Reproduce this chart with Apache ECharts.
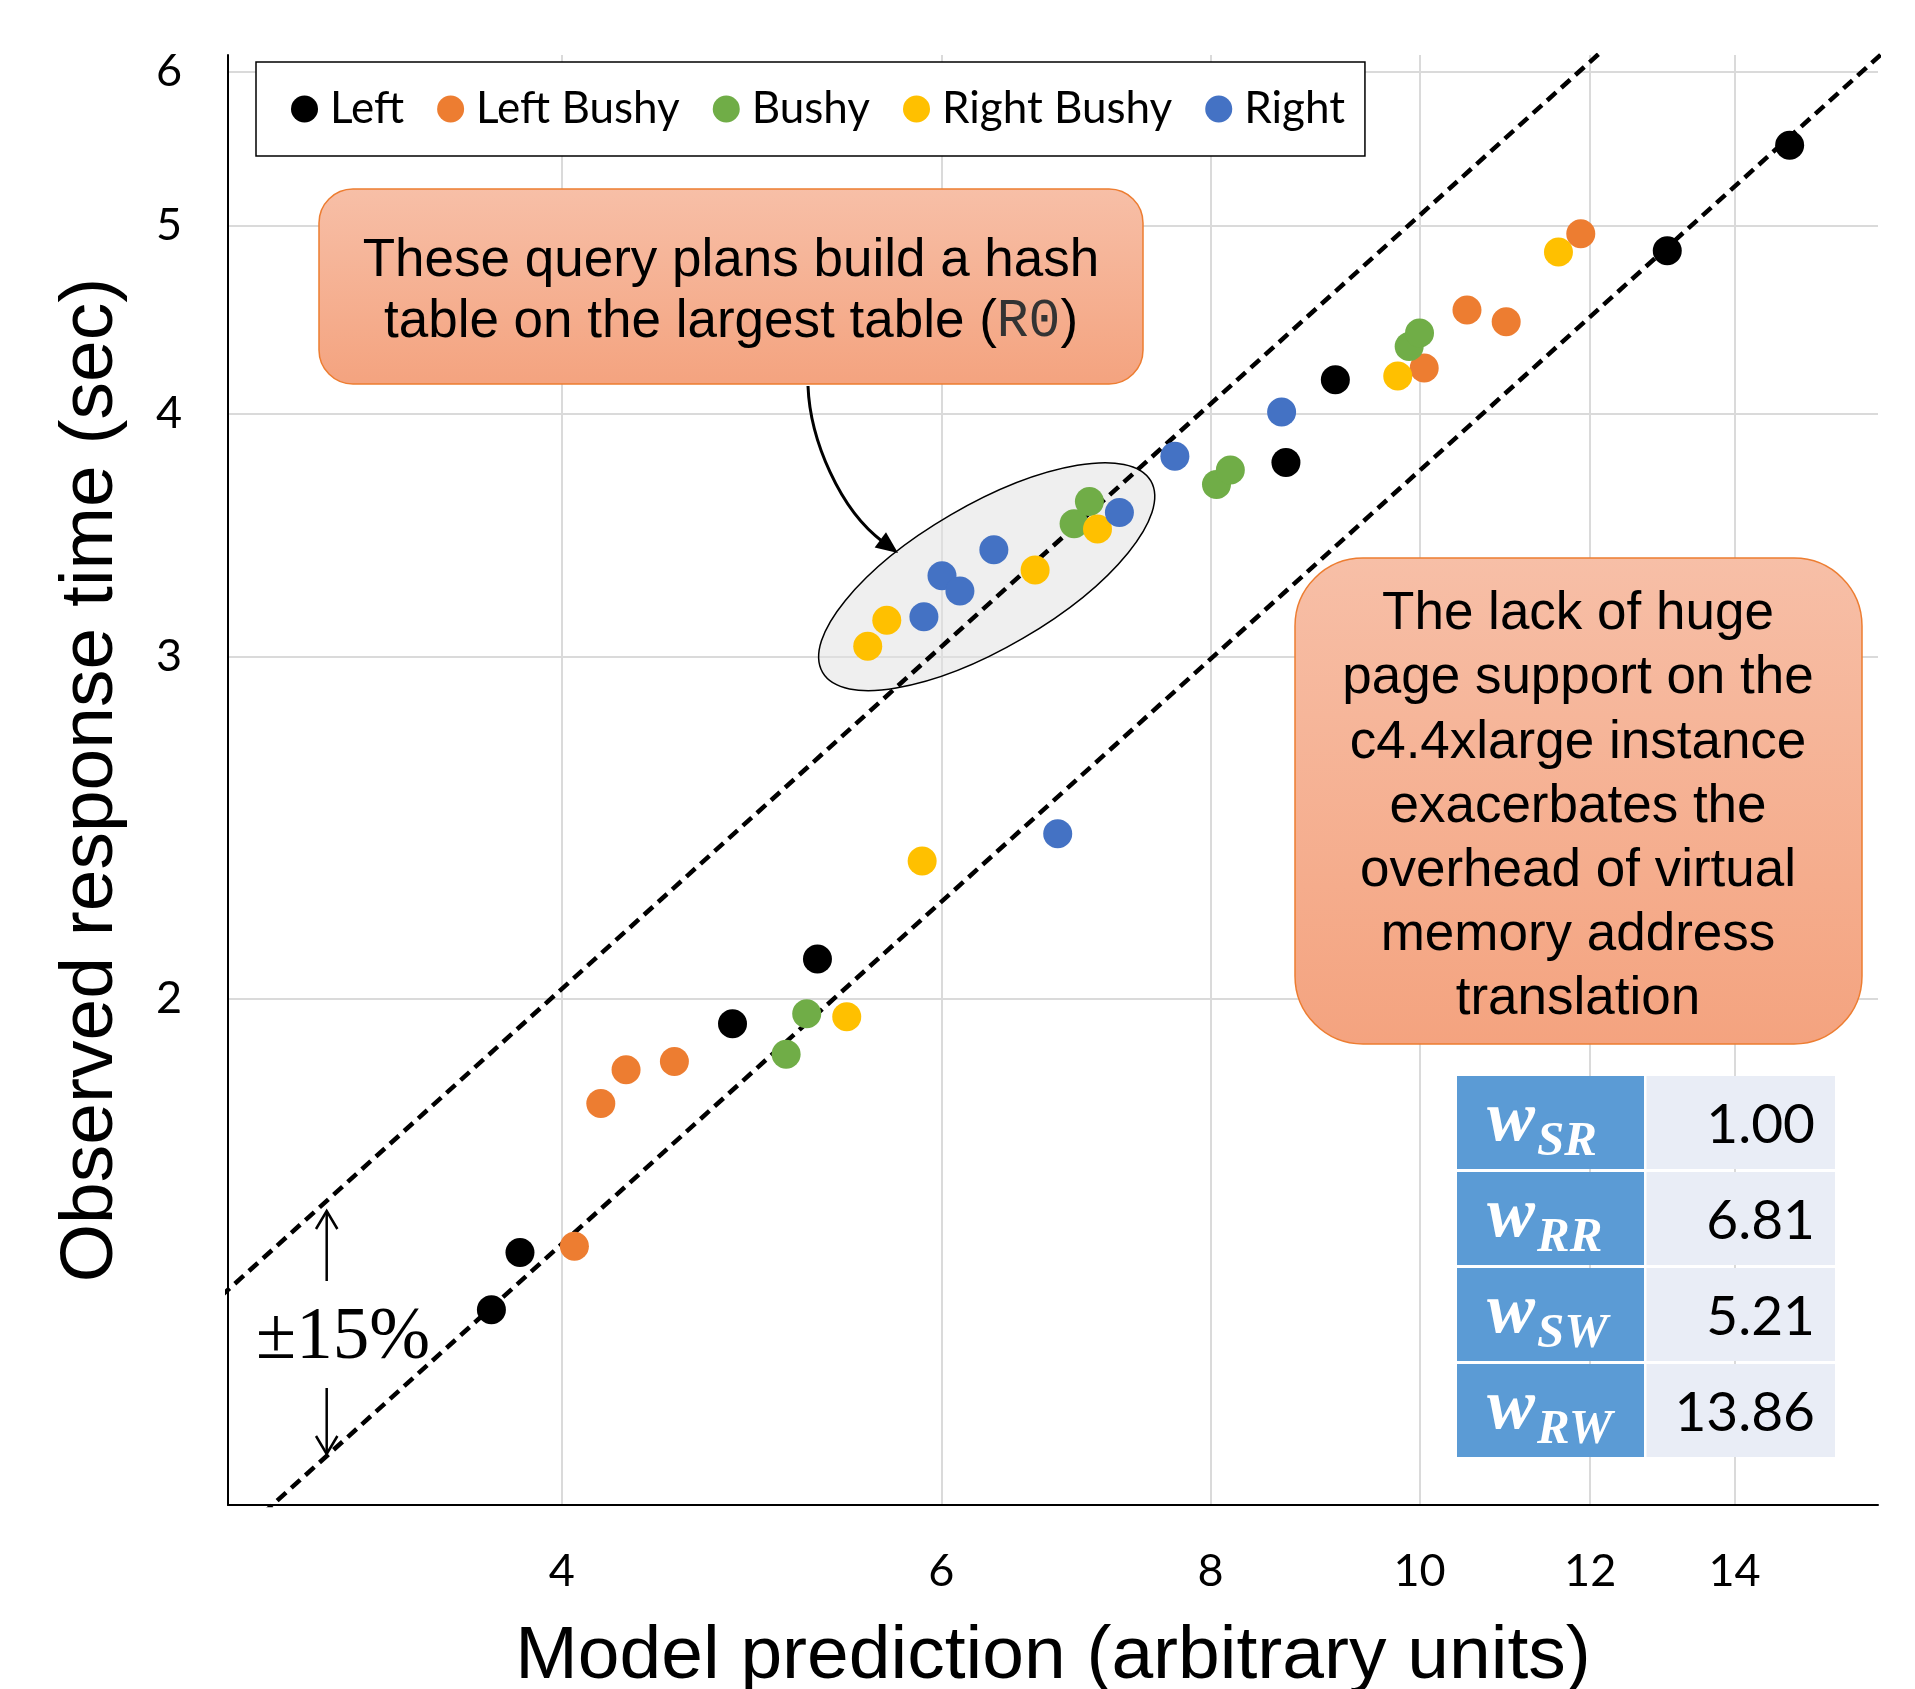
<!DOCTYPE html>
<html><head><meta charset="utf-8">
<script src="https://cdn.jsdelivr.net/npm/echarts@6/dist/echarts.min.js"></script>
<style>html,body{margin:0;padding:0;background:#fff;overflow:hidden}#chart{width:1915px;height:1689px}</style>
</head><body><div id="chart"></div>
<script>
// ---- data (model prediction, observed response time) ----
const seriesNames = ['Left', 'Left Bushy', 'Bushy', 'Right Bushy', 'Right'];
const seriesColors = ['#000000', '#ED7D31', '#70AD47', '#FFC000', '#4472C4'];
const leftPts = [[3.71,1.384],[3.825,1.481],[4.80,1.942],[5.256,2.097],[8.67,3.776],[9.14,4.165],[13.03,4.853],[14.85,5.50]];
const leftBushyPts = [[4.054,1.492],[4.17,1.767],[4.284,1.839],[4.511,1.857],[10.05,4.224],[10.52,4.524],[10.97,4.462],[11.88,4.952]];
const bushyPts = [[5.083,1.873],[5.196,1.965],[6.914,3.512],[7.028,3.606],[8.05,3.679],[8.17,3.743],[9.89,4.333],[10.0,4.403]];
const rightBushyPts = [[5.423,1.958],[5.878,2.355],[5.546,3.037],[5.66,3.132],[6.632,3.325],[7.089,3.49],[9.77,4.184],[11.60,4.846]];
const rightPts = [[5.889,3.145],[6.004,3.302],[6.12,3.243],[6.346,3.405],[7.257,3.559],[7.70,3.804],[8.63,4.009],[6.794,2.432]];
const xTicks = [4, 6, 8, 10, 12, 14];
const yTicks = [2, 3, 4, 5, 6];
const xRange = [2.8, 16.32];
const yRange = [1.098, 6.12];
const bandCenter = 0.44;   // observed ≈ 0.44 × prediction
const bandPct = 0.15;      // ±15 %
const weightLabels = ['SR', 'RR', 'SW', 'RW'];
const weightValues = [1.00, 6.81, 5.21, 13.86];

// ---- chart ----
const LN = Math.log;
const toLog = arr => arr.map(p => [LN(p[0]), LN(p[1])]);
const allSets = [leftPts, leftBushyPts, bushyPts, rightBushyPts, rightPts];

const chart = echarts.init(document.getElementById('chart'), null, {renderer: 'canvas'});

const bandLine = k => [[LN(2.5), LN(k * 2.5)], [LN(20), LN(k * 20)]];
const series = [];
['upper', 'lower'].forEach((nm, i) => {
  const k = bandCenter * (i === 0 ? 1 + bandPct : 1 - bandPct);
  series.push({
    name: nm, type: 'line', data: bandLine(k), symbol: 'none', silent: true, clip: true,
    lineStyle: {color: '#000', width: 4.5, type: [12, 7]}, z: 2
  });
});
allSets.forEach((pts, i) => {
  series.push({
    name: seriesNames[i], type: 'scatter', data: toLog(pts), symbol: 'circle', symbolSize: 29,
    itemStyle: {color: seriesColors[i], opacity: 1}, z: 3
  });
});

const TXT = 'Liberation Sans';
const graphics = [];
// ellipse around the hash-table query plans
graphics.push({type: 'ellipse', x: 986.7, y: 576.7, rotation: 30.25 * Math.PI / 180,
  shape: {cx: 0, cy: 0, rx: 190, ry: 71.5}, z: 1, silent: true,
  style: {fill: 'rgba(226,226,226,0.55)', stroke: '#000', lineWidth: 1.5}});
// callout gradient
const grad = () => ({type: 'linear', x: 0, y: 0, x2: 0, y2: 1,
  colorStops: [{offset: 0, color: '#F7BFA7'}, {offset: 1, color: '#F4A37F'}]});
graphics.push({type: 'rect', shape: {x: 319, y: 189, width: 824, height: 195, r: 34}, z: 10,
  style: {fill: grad(), stroke: '#ED7D31', lineWidth: 1.5}});
graphics.push({type: 'text', x: 731, y: 291.5, z: 11, style: {
  text: 'These query plans build a hash\ntable on the largest table ({m|R0})',
  fontFamily: TXT, fontSize: 53, lineHeight: 61, fill: '#000', align: 'center', verticalAlign: 'middle',
  rich: {m: {fontFamily: 'Liberation Mono', fontSize: 53, fill: '#333', lineHeight: 61}}}});
graphics.push({type: 'rect', shape: {x: 1295, y: 558, width: 567, height: 486, r: 68}, z: 10,
  style: {fill: grad(), stroke: '#ED7D31', lineWidth: 1.5}});
graphics.push({type: 'text', x: 1578, y: 807, z: 11, style: {
  text: 'The lack of huge\npage support on the\nc4.4xlarge instance\nexacerbates the\noverhead of virtual\nmemory address\ntranslation',
  fontFamily: TXT, fontSize: 53, lineHeight: 64.1, fill: '#000', align: 'center', verticalAlign: 'middle'}});
// curved arrow
const P0 = [808, 386], C1 = [810, 440], C2 = [840, 510], T = [898, 553];
const dx = T[0] - C2[0], dy = T[1] - C2[1], dl = Math.hypot(dx, dy);
const ux = dx / dl, uy = dy / dl, L = 22, W = 9.5;
const B = [T[0] - L * ux, T[1] - L * uy];
graphics.push({type: 'bezierCurve', z: 10, silent: true,
  shape: {x1: P0[0], y1: P0[1], cpx1: C1[0], cpy1: C1[1], cpx2: C2[0], cpy2: C2[1], x2: B[0] + 3 * ux, y2: B[1] + 3 * uy},
  style: {stroke: '#000', lineWidth: 3, fill: null}});
graphics.push({type: 'polygon', z: 10, silent: true,
  shape: {points: [T, [B[0] - W * uy, B[1] + W * ux], [B[0] + W * uy, B[1] - W * ux]]},
  style: {fill: '#000'}});
// ±15% annotation
graphics.push({type: 'line', z: 10, shape: {x1: 326.7, y1: 1281, x2: 326.7, y2: 1212}, style: {stroke: '#000', lineWidth: 2.5}});
graphics.push({type: 'polyline', z: 10, shape: {points: [[316, 1229], [326.7, 1211], [337.4, 1229]]}, style: {stroke: '#000', lineWidth: 2.5, fill: null}});
graphics.push({type: 'line', z: 10, shape: {x1: 326.7, y1: 1388, x2: 326.7, y2: 1453}, style: {stroke: '#000', lineWidth: 2.5}});
graphics.push({type: 'polyline', z: 10, shape: {points: [[316, 1436], [326.7, 1454], [337.4, 1436]]}, style: {stroke: '#000', lineWidth: 2.5, fill: null}});
graphics.push({type: 'text', x: 343, y: 1339, z: 10, style: {text: '±' + Math.round(bandPct * 100) + '%',
  fontFamily: 'Liberation Serif', fontSize: 73, fill: '#000', align: 'center', verticalAlign: 'middle'}});
// weights table
weightLabels.forEach((lab, i) => {
  const top = 1076 + i * 96;
  graphics.push({type: 'rect', z: 10, shape: {x: 1457, y: top, width: 187, height: 93}, style: {fill: '#5B9BD5'}});
  graphics.push({type: 'rect', z: 10, shape: {x: 1646.5, y: top, width: 188.5, height: 93}, style: {fill: '#E9EDF6'}});
  graphics.push({type: 'text', z: 11, x: 1535, y: top + 45, style: {text: 'w', fontFamily: 'Liberation Serif',
    fontWeight: 'bold', fontStyle: 'italic', fontSize: 72, fill: '#fff', align: 'right', verticalAlign: 'middle'}});
  graphics.push({type: 'text', z: 11, x: 1537, y: top + 66, style: {text: lab, fontFamily: 'Liberation Serif',
    fontWeight: 'bold', fontStyle: 'italic', fontSize: 49, fill: '#fff', align: 'left', verticalAlign: 'middle'}});
  graphics.push({type: 'text', z: 11, x: 1815, y: top + 49.5, style: {text: weightValues[i].toFixed(2), fontFamily: 'Lato',
    fontSize: 55, fill: '#000', align: 'right', verticalAlign: 'middle'}});
});

const axisCommon = {
  type: 'value',
  axisLine: {show: true, onZero: false, lineStyle: {color: '#000', width: 2}},
  axisTick: {show: false},
  splitLine: {show: true, lineStyle: {color: '#DADADA', width: 2}},
  nameLocation: 'middle',
  nameTextStyle: {fontFamily: TXT, fontSize: 75, color: '#000'}
};

chart.setOption({
  animation: false,
  backgroundColor: '#fff',
  grid: {left: 228, top: 55, width: 1650, height: 1450, containLabel: false, outerBoundsMode: 'none'},
  legend: {
    data: seriesNames, left: 256, top: 62, orient: 'horizontal',
    icon: 'circle', itemWidth: 27, itemHeight: 27, itemGap: 33,
    padding: [25, 20, 25, 35], borderColor: '#000', borderWidth: 1.5, backgroundColor: '#fff',
    textStyle: {fontFamily: 'Lato', fontSize: 44, color: '#000', padding: [0, 0, 0, 7]}
  },
  xAxis: Object.assign({}, axisCommon, {
    min: LN(xRange[0]), max: LN(xRange[1]),
    name: 'Model prediction (arbitrary units)', nameGap: 115,
    axisTick: {show: false, customValues: xTicks.map(LN)},
    axisLabel: {customValues: xTicks.map(LN), formatter: v => String(Math.round(Math.exp(v))),
      fontFamily: 'Lato', fontSize: 45, color: '#000', margin: 44}
  }),
  yAxis: Object.assign({}, axisCommon, {
    min: LN(yRange[0]), max: LN(yRange[1]),
    name: 'Observed response time (sec)', nameGap: 99,
    axisTick: {show: false, customValues: yTicks.map(LN)},
    axisLabel: {customValues: yTicks.map(LN), formatter: v => String(Math.round(Math.exp(v))),
      fontFamily: 'Lato', fontSize: 45, color: '#000', margin: 46}
  }),
  series: series,
  graphic: {elements: graphics}
});
</script></body></html>
